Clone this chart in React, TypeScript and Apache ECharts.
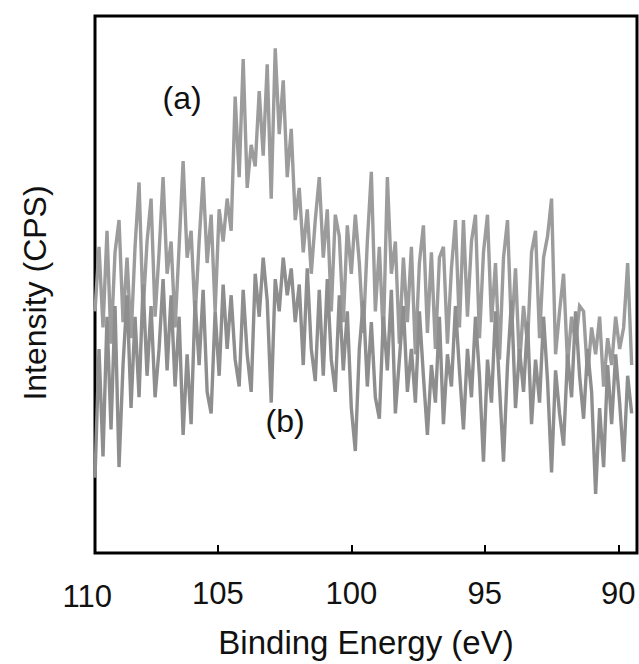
import React, { useEffect, useRef } from "react";
import * as echarts from "echarts";

const E_START = 109.6;
const E_STEP = 0.15;
const X_MIN = 89.3;
const X_MAX = 109.6;
const xTickValues = [90, 95, 100, 105];
const extraTickLabel = 110;

const seriesA = [
  45, 57, 42, 60, 39, 56, 62, 43, 55, 40, 57, 69, 45, 58, 66, 44, 56, 70, 52, 58,
  42, 57, 73, 55, 60, 44, 58, 70, 54, 63, 45, 64, 58, 66, 60, 85, 70, 92, 68, 76,
  72, 86, 74, 91, 66, 94, 78, 88, 70, 79, 62, 68, 56, 64, 52, 62, 70, 55, 64, 45,
  63, 59, 43, 61, 52, 63, 54, 41, 58, 71, 45, 57, 40, 70, 52, 58, 39, 55, 43, 57,
  37, 54, 61, 41, 56, 38, 55, 57, 39, 53, 62, 42, 62, 44, 58, 63, 40, 56, 63, 43,
  54, 36, 55, 62, 41, 53, 35, 46, 39, 56, 60, 40, 55, 59, 66, 37, 45, 52, 35, 44,
  39, 46, 45, 33, 42, 37, 44, 31, 40, 35, 44, 38, 42, 54, 35,
];

const seriesB = [
  14, 38, 18, 44, 23, 46, 16, 35, 48, 27, 44, 29, 50, 33, 46, 29, 38, 51, 34, 48,
  31, 44, 22, 37, 24, 47, 35, 49, 30, 26, 45, 33, 50, 38, 48, 36, 31, 49, 37, 30,
  52, 44, 55, 47, 28, 51, 45, 55, 48, 53, 43, 50, 35, 53, 38, 32, 49, 33, 51, 36,
  30, 48, 34, 45, 27, 19, 38, 47, 31, 43, 29, 25, 44, 34, 49, 26, 36, 46, 30, 38,
  28, 45, 33, 22, 35, 28, 44, 24, 37, 31, 46, 34, 23, 38, 29, 44, 33, 17, 36, 28,
  45, 31, 17, 35, 47, 27, 38, 30, 43, 24, 36, 28, 44, 32, 15, 34, 26, 20, 37, 29,
  45, 33, 25, 38, 30, 11, 27, 16, 35, 24, 37, 28, 17, 33, 26,
];

const seriesLabels = ["(a)", "(b)"];
const xTitle = "Binding Energy (eV)";
const yTitle = "Intensity (CPS)";

const FONT = "'Liberation Sans', Arial, sans-serif";

export default function App() {
  const ref = useRef<HTMLDivElement>(null);

  useEffect(() => {
    document.body.style.margin = "0";
    if (!ref.current) return;
    const chart = echarts.init(ref.current, null, { renderer: "svg" });
    const toPairs = (arr: number[]) =>
      arr.map((v, i) => [Number((E_START - E_STEP * i).toFixed(3)), v]);

    chart.setOption({
      animation: false,
      backgroundColor: "#ffffff",
      grid: {
        left: 95,
        right: 2,
        top: 16,
        bottom: 108,
        show: true,
        borderColor: "#000",
        borderWidth: 3,
        backgroundColor: "transparent",
      },
      xAxis: {
        type: "value",
        inverse: true,
        min: X_MIN,
        max: X_MAX,
        axisLine: { show: false },
        splitLine: { show: false },
        axisTick: {
          show: true,
          inside: true,
          length: 8,
          lineStyle: { color: "#000", width: 2 },
          customValues: xTickValues,
        },
        axisLabel: {
          customValues: xTickValues,
          margin: 25,
          fontSize: 31,
          fontFamily: FONT,
          color: "#111",
        },
        name: xTitle,
        nameLocation: "middle",
        nameGap: 73,
        nameTextStyle: { fontSize: 33, fontFamily: FONT, color: "#111" },
      },
      yAxis: {
        type: "value",
        min: 0,
        max: 100,
        axisLine: { show: false },
        axisTick: { show: false },
        axisLabel: { show: false },
        splitLine: { show: false },
      },
      series: [
        {
          type: "line",
          name: seriesLabels[0],
          data: toPairs(seriesA),
          showSymbol: false,
          lineStyle: { color: "#9c9c9c", width: 3.4, join: "miter" },
          z: 2,
        },
        {
          type: "line",
          name: seriesLabels[1],
          data: toPairs(seriesB),
          showSymbol: false,
          lineStyle: { color: "#8e8e8e", width: 3.4, join: "miter" },
          z: 3,
        },
      ],
    });

    const p110 = chart.convertToPixel({ xAxisIndex: 0 }, extraTickLabel) as number;
    const pA = chart.convertToPixel({ gridIndex: 0 }, [106.34, 84.8]) as number[];
    const pB = chart.convertToPixel({ gridIndex: 0 }, [102.48, 24.6]) as number[];
    chart.setOption({
      graphic: [
        {
          type: "text",
          x: p110 + 3,
          y: 556 + 25,
          style: {
            text: String(extraTickLabel),
            fontSize: 31,
            fontFamily: FONT,
            fill: "#111",
            align: "center",
            verticalAlign: "top",
          },
        },
        {
          type: "text",
          x: 35,
          y: 293,
          rotation: Math.PI / 2,
          style: {
            text: yTitle,
            fontSize: 32,
            fontFamily: FONT,
            fill: "#111",
            align: "center",
            verticalAlign: "middle",
          },
        },
        {
          type: "text",
          x: pA[0],
          y: pA[1],
          style: {
            text: seriesLabels[0],
            fontSize: 32,
            fontFamily: FONT,
            fill: "#111",
            align: "center",
            verticalAlign: "middle",
          },
        },
        {
          type: "text",
          x: pB[0],
          y: pB[1],
          style: {
            text: seriesLabels[1],
            fontSize: 32,
            fontFamily: FONT,
            fill: "#111",
            align: "center",
            verticalAlign: "middle",
          },
        },
      ],
    });

    return () => chart.dispose();
  }, []);

  return <div ref={ref} style={{ width: 639, height: 664 }} />;
}
